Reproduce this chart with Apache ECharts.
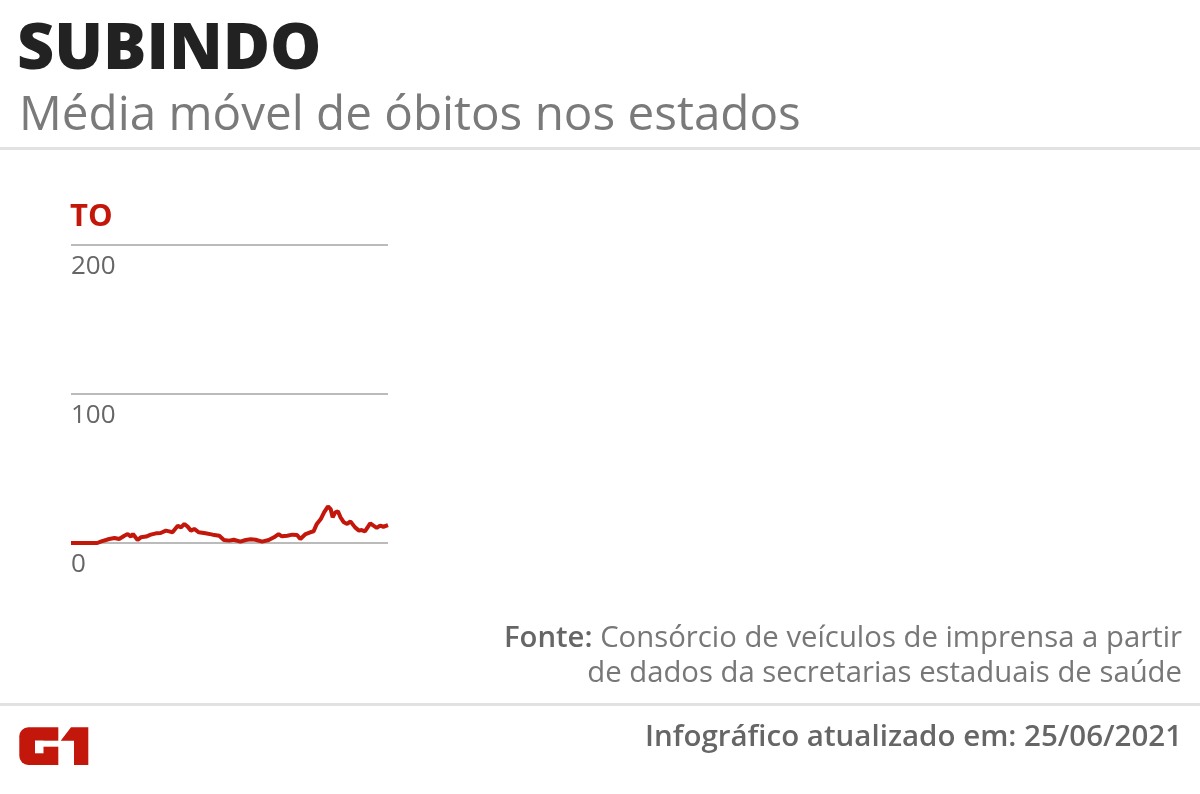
<!DOCTYPE html>
<html><head><meta charset="utf-8">
<script src="https://cdn.jsdelivr.net/npm/echarts@6/dist/echarts.min.js"></script>
<style>html,body{margin:0;padding:0;background:#fff}#c{width:1200px;height:794px}</style>
</head><body><div id="c"></div>
<script>
// days since start of series (approx. Mar 2020 → 25/06/2021)
const dias = [0,40,45,58,66,73,81,86,91,94,101,106,114,121,129,136,144,149,154,162,167,172,177,182,187,194,204,215,225,232,240,247,257,265,273,280,290,300,308,315,320,328,336,343,348,356,363,368,373,379,384,386,390,394,397,401,405,409,414,419,424,426,431,437,441,446,454,459,464,469,474,481];
const mediaMovel = [0,0,0.9,2.7,3.4,2.7,4.9,6.0,4.3,6.0,2.0,3.8,4.3,5.6,6.5,6.7,8.3,7.8,7.2,11.6,10.5,12.8,11.0,8.3,9.4,7.2,6.5,5.6,4.9,2.0,1.6,2.2,0.9,2.0,2.5,2.2,0.9,2.0,3.8,6.0,4.5,4.9,5.6,5.4,2.7,6.0,7.2,7.8,12.8,16.1,20.6,19.5,24.6,22.8,17.2,20.6,21.3,17.2,13.9,12.8,14.5,15.0,10.5,8.3,8.7,7.8,13.2,11.6,10.1,11.6,10.9,12.0];
const yTicks = [0,100,200];
const estado = 'TO';
const titulo = 'SUBINDO';
const subtitulo = 'Média móvel de óbitos nos estados';
const fonte1 = 'Consórcio de veículos de imprensa a partir';
const fonte2 = 'de dados da secretarias estaduais de saúde';
const atualizado = 'Infográfico atualizado em: 25/06/2021';

const chart = echarts.init(document.getElementById('c'), null, {renderer:'canvas'});
const F = '"Open Sans", sans-serif';
const RED = '#c4170c';
chart.setOption({
  animation:false,
  backgroundColor:'#fff',
  grid:{left:71,right:812,top:245,bottom:251},
  xAxis:{type:'value',min:0,max:481,show:false},
  yAxis:{type:'value',min:yTicks[0],max:yTicks[yTicks.length-1],interval:100,
    axisLine:{show:false},axisTick:{show:false},
    splitLine:{lineStyle:{color:'#bbbbbb',width:2}},
    axisLabel:{inside:true,verticalAlign:'top',margin:0,padding:[9,0,0,0],color:'#666',fontSize:26,fontFamily:F}},
  series:[{type:'line',data:dias.map((d,i)=>[d,mediaMovel[i]]),showSymbol:false,
    lineStyle:{color:RED,width:4},z:5}],
  graphic:[
    {type:'text',left:17,top:18,style:{text:titulo,fontFamily:F,fontWeight:800,fontSize:64.5,fill:'#222'}},
    {type:'text',left:19,top:92,style:{text:subtitulo,fontFamily:F,fontSize:47.6,fill:'#7a7a7a'}},
    {type:'rect',shape:{x:0,y:147,width:1200,height:3},style:{fill:'#e2e2e2'}},
    {type:'text',left:70,top:202,style:{text:estado,fontFamily:F,fontWeight:700,fontSize:31,fill:RED}},
    {type:'text',right:18,top:624,style:{rich:{b:{fontFamily:F,fontWeight:600,fontSize:29.3,fill:'#666'},r:{fontFamily:F,fontSize:29.3,fill:'#777'}},text:'{b|Fonte:}{r|\u00a0'+fonte1+'}',align:'right'}},
    {type:'text',right:18,top:659,style:{text:fonte2,fontFamily:F,fontSize:29.3,fill:'#777',align:'right'}},
    {type:'rect',shape:{x:0,y:703,width:1200,height:3},style:{fill:'#e2e2e2'}},
    {type:'text',right:18,top:723,style:{text:atualizado,fontFamily:F,fontWeight:600,fontSize:29.5,fill:'#666',align:'right'}},
    // G1 logo
    {type:'rect',shape:{x:19.3,y:727.3,width:39,height:37.7,r:[9,0,0,9]},style:{fill:RED}},
    {type:'rect',shape:{x:35,y:740.7,width:24,height:6},style:{fill:'#fff'}},
    {type:'rect',shape:{x:35,y:740.7,width:8.5,height:12.6},style:{fill:'#fff'}},
    {type:'polygon',shape:{points:[[60.7,740.7],[71,727.3],[88.3,727.3],[88.3,765],[74,765],[74,740.7]]},style:{fill:RED}}
  ]
});
</script></body></html>
